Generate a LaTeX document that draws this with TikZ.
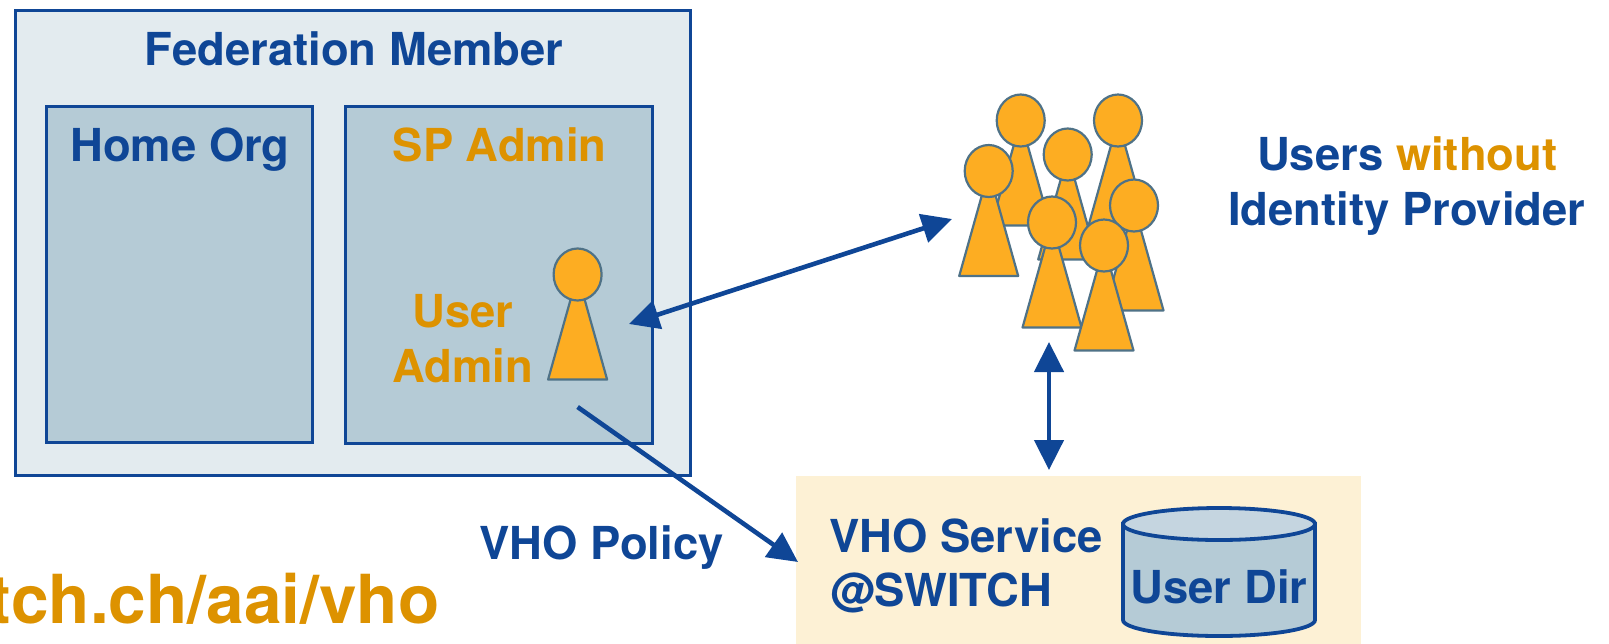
\documentclass[tikz,border=0pt]{standalone}
\usepackage{fontspec}
\setmainfont{TeX Gyre Heros}[BoldFont=* Bold]
\usetikzlibrary{arrows.meta}
\definecolor{navy}{HTML}{0F4696}
\definecolor{ochre}{HTML}{DD9200}
\definecolor{personfill}{HTML}{FDAD22}
\definecolor{personline}{HTML}{4F7287}
\definecolor{fedfill}{HTML}{E3EBEF}
\definecolor{innerfill}{HTML}{B5CBD6}
\definecolor{cream}{HTML}{FDF1D5}
\definecolor{cyltop}{HTML}{C5D5E0}
\tikzset{
  framebox/.style={draw=navy,line width=1.3pt,rectangle,inner sep=0pt,outer sep=0pt},
  label/.style={anchor=base,inner sep=0pt,font=\fontsize{22.7}{27}\selectfont\bfseries,text=navy},
  labelo/.style={label,text=ochre},
  link/.style={draw=navy,line width=2.3pt},
  tipboth/.style={link,{Triangle[length=15pt,width=14.5pt]}-{Triangle[length=15pt,width=14.5pt]}},
  tipend/.style={link,-{Triangle[length=15pt,width=14.5pt]}},
  person/.pic={
    \draw[personline,fill=personfill,line width=1.1pt,line join=round] (0,0) -- (-29.5,105) -- (29.5,105) -- cycle;
    \draw[personline,fill=personfill,line width=1.1pt] (0,0) ellipse [x radius=24,y radius=26];
  }
}
\begin{document}
\begin{tikzpicture}[x=0.5pt,y=-0.5pt]
\useasboundingbox (0,0) rectangle (1609,643);
% boxes
\node[framebox,fill=fedfill,minimum width=337.7pt,minimum height=232.4pt] (fed) at (353,243) {};
\node[framebox,fill=innerfill,minimum width=133pt,minimum height=168pt] (home) at (179.5,274.5) {};
\node[framebox,fill=innerfill,minimum width=153.5pt,minimum height=168.5pt] (sp) at (499,275) {};
\node[rectangle,fill=cream,inner sep=0pt,minimum width=282.5pt,minimum height=84pt] (vho) at (1078.5,559.5) {};
% labels
\node[label] (fedt) at (354,65.7) {Federation Member};
\node[label] (homet) at (180,161) {Home Org};
\node[labelo] (spt) at (499.6,161) {SP Admin};
\node[labelo] (ua1) at (463,327) {User};
\node[labelo] (ua2) at (462.5,382) {Admin};
\node[label] (un1) at (1407.2,170.5) {Users \textcolor{ochre}{without}};
\node[label] (un2) at (1406.7,225) {Identity Provider};
\node[label] (pol) at (601.5,559) {VHO Policy};
\node[label,anchor=base west] (vs1) at (829,552) {VHO Service};
\node[label,anchor=base west] (vs2) at (830,606) {@SWITCH};
\node[anchor=base east,inner sep=0pt,font=\fontsize{33.8}{40}\selectfont\bfseries,text=ochre] (url) at (440,623) {tch.ch/aai/vho};
% user admin
\pic at (577.6,274.5) {person};
% crowd
\pic at (1020.7,120.5) {person};
\pic at (1118,120.5) {person};
\pic at (1067.7,154.5) {person};
\pic at (988.7,171) {person};
\pic at (1134,205.5) {person};
\pic at (1052,222.5) {person};
\pic at (1104,245.5) {person};
% cylinder
\draw[navy,line width=1.9pt,fill=innerfill] (1123,524) -- (1123,620) arc[start angle=180,end angle=0,x radius=96,y radius=16] -- (1315,524) -- cycle;
\draw[navy,line width=1.9pt,fill=cyltop] (1219,524) ellipse [x radius=96,y radius=16];
\node[label] (dir) at (1219,603) {User Dir};
% connectors
\coordinate (a1) at (629,324);
\coordinate (a2) at (952,219);
\coordinate (b1) at (1049,342);
\coordinate (b2) at (1049,470);
\coordinate (c1) at (577.6,407);
\coordinate (c2) at (798,562);
\draw[tipboth] (a1) -- (a2);
\draw[tipboth] (b1) -- (b2);
\draw[tipend] (c1) -- (c2);
\end{tikzpicture}
\end{document}
